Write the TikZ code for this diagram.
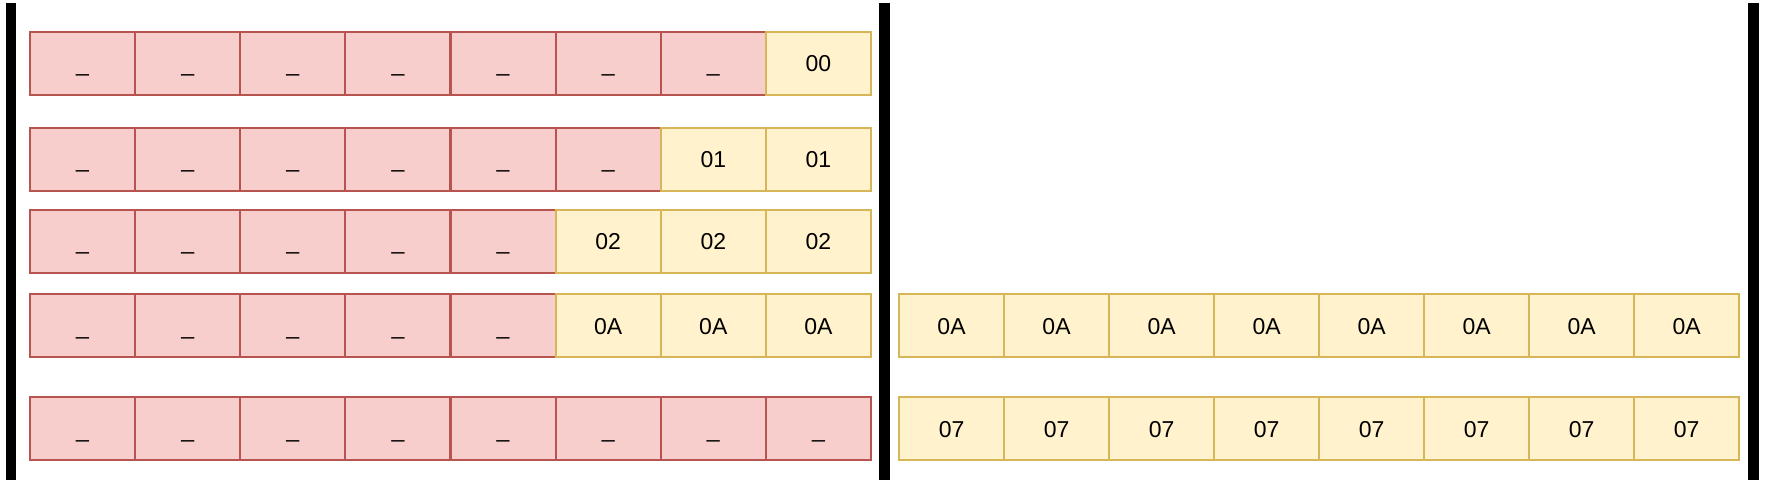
\documentclass[tikz,border=0pt]{standalone}
\usepackage{fontspec}
\setmainfont{Liberation Sans}
\definecolor{redfill}{HTML}{F8CECC}
\definecolor{redline}{HTML}{B85450}
\definecolor{yelfill}{HTML}{FFF2CC}
\definecolor{yelline}{HTML}{D6B656}
\begin{document}
\begin{tikzpicture}[x=1pt,y=-1pt,
  cell/.style={draw, line width=2pt, minimum width=105.1pt, minimum height=63pt, anchor=north west,
    inner sep=0pt, font=\fontsize{23}{23}\selectfont, text height=17pt, text depth=0pt},
  redcell/.style={cell, fill=redfill, draw=redline},
  yelcell/.style={cell, fill=yelfill, draw=yelline},
  bar/.style={line width=10.5pt, black}]
\useasboundingbox (0,0) rectangle (1766,486);
% bars
\draw[bar] (11,3) -- (11,480);
\draw[bar] (884.5,3) -- (884.5,480);
\draw[bar] (1753.5,3) -- (1753.5,480);
% left rows: row index / top y / number of red cells / label
\foreach \r/\y/\n/\lab in {1/31/7/00, 2/127/6/01, 3/209/5/02, 4/293/5/0A, 5/396/8/{}}{
  \foreach \c in {1,...,8}{
    \pgfmathsetmacro{\xx}{29+105.125*(\c-1)}
    \ifnum\c>\n
      \node[yelcell] (r\r c\c) at (\xx,\y) {\lab};
    \else
      \node[redcell] (r\r c\c) at (\xx,\y) {\_};
    \fi
  }
}
% right rows
\foreach \r/\y/\lab in {4/293/0A, 5/396/07}{
  \foreach \c in {1,...,8}{
    \pgfmathsetmacro{\xx}{898+105*(\c-1)}
    \node[yelcell] (R\r c\c) at (\xx,\y) {\lab};
  }
}
\end{tikzpicture}
\end{document}
